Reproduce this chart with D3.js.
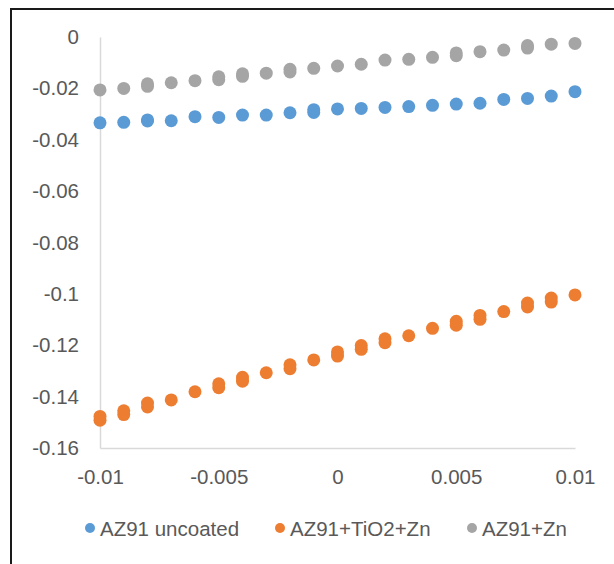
<!DOCTYPE html>
<html lang="en">

<head>
  <meta charset="UTF-8">
  <title>AZ91 scatter</title>
  <script src="https://d3js.org/d3.v7.min.js"></script>
  <style>
    body { margin: 0; background: #fff; }
    text { font-family: "Liberation Sans", Arial, sans-serif; fill: #595959; }
  </style>
</head>

<body>
  <script>
    // some x values carry two readings
    const uncoated = [
      [-0.010, -0.0334], [-0.009, -0.0332], [-0.008, -0.0327], [-0.008, -0.0323],
      [-0.007, -0.0326], [-0.006, -0.0310], [-0.005, -0.0313], [-0.004, -0.0304],
      [-0.003, -0.0304], [-0.002, -0.0295], [-0.001, -0.0294], [-0.001, -0.0283],
      [0.000, -0.0280], [0.001, -0.0278], [0.002, -0.0274], [0.003, -0.0271],
      [0.004, -0.0266], [0.005, -0.0261], [0.006, -0.0258], [0.007, -0.0243],
      [0.008, -0.0239], [0.009, -0.0230], [0.010, -0.0213]
    ];

    const tio2zn = [
      [-0.010, -0.1492], [-0.010, -0.1477], [-0.009, -0.1470], [-0.009, -0.1455],
      [-0.008, -0.1440], [-0.008, -0.1425], [-0.007, -0.1413], [-0.006, -0.1381],
      [-0.005, -0.1365], [-0.005, -0.1350], [-0.004, -0.1340], [-0.004, -0.1325],
      [-0.003, -0.1307], [-0.002, -0.1291], [-0.002, -0.1276], [-0.001, -0.1257],
      [0.000, -0.1242], [0.000, -0.1226], [0.001, -0.1216], [0.001, -0.1201],
      [0.002, -0.1190], [0.002, -0.1175], [0.003, -0.1163], [0.004, -0.1134],
      [0.005, -0.1122], [0.005, -0.1107], [0.006, -0.1099], [0.006, -0.1084],
      [0.007, -0.1069], [0.008, -0.1051], [0.008, -0.1036], [0.009, -0.1032],
      [0.009, -0.1016], [0.010, -0.1004]
    ];

    const zn = [
      [-0.010, -0.0206], [-0.009, -0.0200], [-0.008, -0.0192], [-0.008, -0.0182],
      [-0.007, -0.0178], [-0.006, -0.0170], [-0.005, -0.0166], [-0.005, -0.0155],
      [-0.004, -0.0153], [-0.004, -0.0143], [-0.003, -0.0141], [-0.002, -0.0136],
      [-0.002, -0.0126], [-0.001, -0.0122], [0.000, -0.0113], [0.001, -0.0106],
      [0.002, -0.0090], [0.003, -0.0087], [0.004, -0.0079], [0.005, -0.0073],
      [0.005, -0.0062], [0.006, -0.0057], [0.007, -0.0051], [0.008, -0.0043],
      [0.008, -0.0033], [0.009, -0.0028], [0.010, -0.0025]
    ];

    const seriesNames = ['AZ91 uncoated', 'AZ91+TiO2+Zn', 'AZ91+Zn'];
    const seriesColors = ['#5b9bd5', '#ed7d31', '#a5a5a5'];

    const xTicks = [-0.01, -0.005, 0, 0.005, 0.01];
    const xTickLabels = ['-0.01', '-0.005', '0', '0.005', '0.01'];
    const yTicks = [0, -0.02, -0.04, -0.06, -0.08, -0.1, -0.12, -0.14, -0.16];
    const yTickLabels = ['0', '-0.02', '-0.04', '-0.06', '-0.08', '-0.1', '-0.12', '-0.14', '-0.16'];

    const w = 614;
    const h = 564;

    const xScale = d3.scaleLinear()
      .domain([-0.01, 0.01])
      .range([100, 575]);

    const yScale = d3.scaleLinear()
      .domain([-0.16, 0])
      .range([448, 37]);

    const svg = d3.select('body')
      .append('svg')
      .attr('width', w)
      .attr('height', h)

    // chart frame (cut off at right and bottom)
    svg.append('rect')
      .attr('x', 11)
      .attr('y', 9)
      .attr('width', 640)
      .attr('height', 600)
      .attr('fill', 'none')
      .attr('stroke', '#1a1a1a')
      .attr('stroke-width', 2)

    //axes
    const yAxis = d3.axisLeft(yScale)
      .tickValues(yTicks)
      .tickFormat((d, i) => yTickLabels[i])
      .tickSize(0)
      .tickPadding(21);

    const xAxis = d3.axisBottom(xScale)
      .tickValues(xTicks)
      .tickFormat((d, i) => xTickLabels[i])
      .tickSize(0)
      .tickPadding(21);

    svg.append('g')
      .attr('transform', 'translate(100,0)')
      .call(yAxis)

    svg.append('g')
      .attr('transform', 'translate(0,448)')
      .call(xAxis)

    svg.selectAll('.domain')
      .attr('stroke', '#d9d9d9')
      .attr('stroke-width', 1.5)

    svg.selectAll('.tick text')
      .attr('fill', '#595959')
      .style('font-size', '20.5px')
      .style('font-family', '"Liberation Sans", Arial, sans-serif')

    //points
    const allSeries = [uncoated, tio2zn, zn];
    allSeries.forEach((data, i) => {
      svg.append('g')
        .selectAll('circle')
        .data(data)
        .enter()
        .append('circle')
        .attr('cx', d => xScale(d[0]))
        .attr('cy', d => yScale(d[1]))
        .attr('r', 6.5)
        .attr('fill', seriesColors[i])
    });

    //legend
    const legendX = [90, 280, 472];
    const legend = svg.append('g')
      .selectAll('g')
      .data(seriesNames)
      .enter()
      .append('g')
      .attr('transform', (d, i) => `translate(${legendX[i]},528)`)

    legend.append('circle')
      .attr('r', 5)
      .attr('fill', (d, i) => seriesColors[i])

    legend.append('text')
      .text(d => d)
      .attr('x', 10)
      .attr('y', 7.5)
      .style('font-size', '20.5px')
  </script>
</body>

</html>
